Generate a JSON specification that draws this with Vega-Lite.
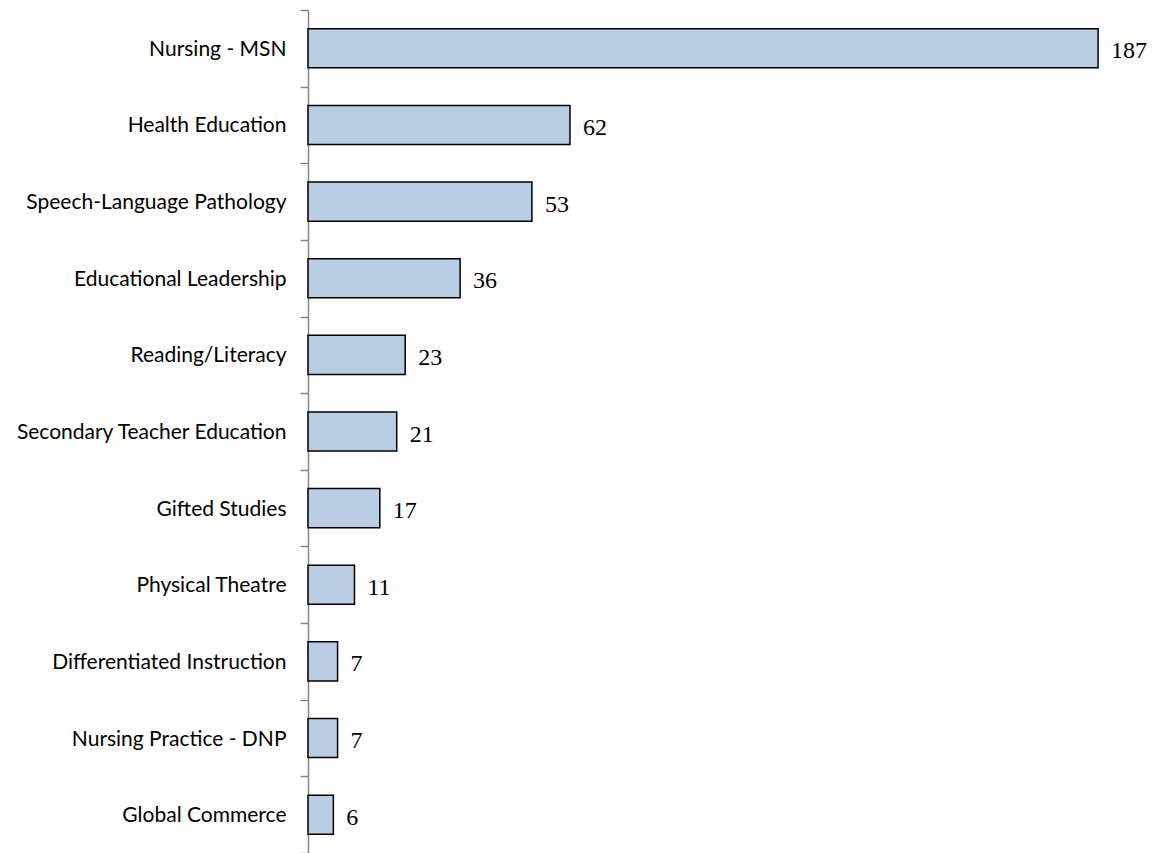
{
  "$schema": "https://vega.github.io/schema/vega-lite/v6.json",
  "autosize": {"type": "none"},
  "padding": {"left": 308, "top": 10, "right": 7, "bottom": 0},
  "width": 845,
  "height": 843,
  "background": "white",
  "config": {"view": {"stroke": null}},
  "data": {"values": [
    {"program": "Nursing - MSN", "count": 187},
    {"program": "Health Education", "count": 62},
    {"program": "Speech-Language Pathology", "count": 53},
    {"program": "Educational Leadership", "count": 36},
    {"program": "Reading/Literacy", "count": 23},
    {"program": "Secondary Teacher Education", "count": 21},
    {"program": "Gifted Studies", "count": 17},
    {"program": "Physical Theatre", "count": 11},
    {"program": "Differentiated Instruction", "count": 7},
    {"program": "Nursing Practice - DNP", "count": 7},
    {"program": "Global Commerce", "count": 6}
  ]},
  "encoding": {
    "y": {"field": "program", "type": "nominal", "sort": null,
      "scale": {"paddingInner": 0, "paddingOuter": 0},
      "axis": {"title": null, "tickBand": "extent", "domainColor": "#868686", "domainWidth": 1.5,
        "tickColor": "#868686", "tickWidth": 1.5, "tickSize": 8, "labelPadding": 14, "labelLimit": 400,
        "labelFont": "Lato", "labelFontSize": 21, "labelColor": "#000000",
        "labelBaseline": "alphabetic", "labelOffset": 7}},
    "x": {"field": "count", "type": "quantitative", "scale": {"domain": [0, 200]}, "axis": null}
  },
  "layer": [
    {"mark": {"type": "bar", "height": {"band": 0.51}, "fill": "#B9CDE5", "stroke": "#000000", "strokeWidth": 1.5}},
    {"mark": {"type": "text", "align": "left", "baseline": "alphabetic", "dx": 13, "dy": 10, "font": "Liberation Serif", "fontSize": 24, "color": "#000000"},
     "encoding": {"text": {"field": "count", "type": "quantitative"}}}
  ]
}
